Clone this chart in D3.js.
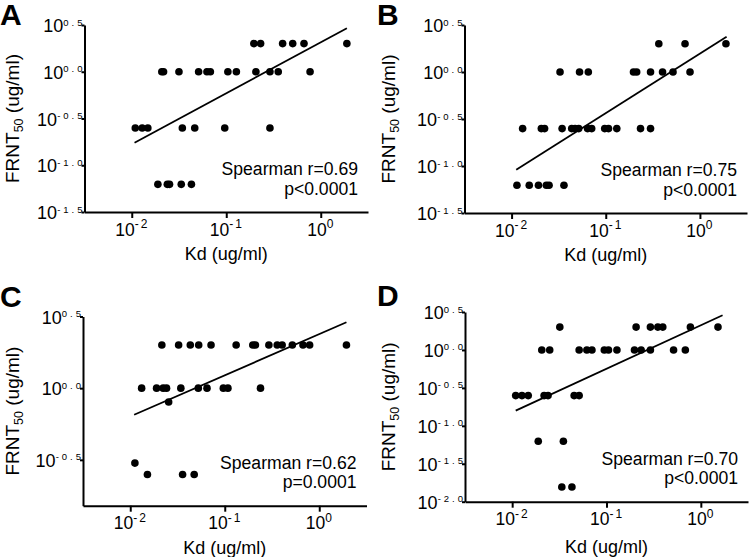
<!DOCTYPE html>
<html>
<head>
<meta charset="utf-8">
<script src="https://cdn.jsdelivr.net/npm/d3@7"></script>
<style>
  body { margin: 0; background: #fff; }
  svg { display: block; font-family: "Liberation Sans", Arial, sans-serif; }
</style>
</head>
<body>
<svg id="chart" width="750" height="557"></svg>
<script>
// ---- data (Kd vs FRNT50, ug/ml) ----
const kdA = [0.196, 0.231, 0.395, 0.505, 0.665, 1.89,
  0.0208, 0.0217, 0.0316, 0.051, 0.0625, 0.0679, 0.104, 0.128, 0.206, 0.29, 0.355, 0.771,
  0.0109, 0.0129, 0.0148, 0.0343, 0.0464, 0.0964, 0.29,
  0.0189, 0.0238, 0.0251, 0.0334, 0.0428];
const frntA = [2, 2, 2, 2, 2, 2,
  1, 1, 1, 1, 1, 1, 1, 1, 1, 1, 1, 1,
  0.25, 0.25, 0.25, 0.25, 0.25, 0.25, 0.25,
  0.0625, 0.0625, 0.0625, 0.0625, 0.0625];

const kdB = [0.366, 0.695, 1.89,
  0.0327, 0.0527, 0.0653, 0.197, 0.213, 0.299, 0.401, 0.518, 0.785,
  0.0131, 0.0207, 0.0224, 0.0344, 0.0435, 0.0472, 0.0516, 0.0641, 0.0709, 0.0975, 0.107, 0.131, 0.234, 0.299,
  0.0114, 0.0154, 0.0193, 0.0234, 0.025, 0.036];
const frntB = [2, 2, 2,
  1, 1, 1, 1, 1, 1, 1, 1, 1,
  0.25, 0.25, 0.25, 0.25, 0.25, 0.25, 0.25, 0.25, 0.25, 0.25, 0.25, 0.25, 0.25, 0.25,
  0.0625, 0.0625, 0.0625, 0.0625, 0.0625, 0.0625];

const kdC = [0.0216, 0.0325, 0.0432, 0.053, 0.0716, 0.132, 0.198, 0.211, 0.293, 0.359, 0.405, 0.519, 0.673, 0.791, 1.94,
  0.0132, 0.019, 0.0223, 0.0242, 0.0343, 0.0525, 0.0649, 0.0966, 0.108, 0.239,
  0.0255,
  0.0112,
  0.0152, 0.0358, 0.0475];
const frntC = [2, 2, 2, 2, 2, 2, 2, 2, 2, 2, 2, 2, 2, 2, 2,
  1, 1, 1, 1, 1, 1, 1, 1, 1, 1,
  0.8,
  0.3,
  0.25, 0.25, 0.25];

const kdD = [0.032, 0.206, 0.292, 0.35, 0.395, 0.775, 1.52,
  0.0206, 0.025, 0.0513, 0.0619, 0.0701, 0.0948, 0.105, 0.129, 0.198, 0.233, 0.292, 0.514, 0.685,
  0.0109, 0.0127, 0.0148, 0.0218, 0.024, 0.0454, 0.0513,
  0.0189, 0.0349,
  0.0336, 0.043];
const frntD = [2, 2, 2, 2, 2, 2, 2,
  1, 1, 1, 1, 1, 1, 1, 1, 1, 1, 1, 1, 1,
  0.25, 0.25, 0.25, 0.25, 0.25, 0.25, 0.25,
  0.0625, 0.0625,
  0.015625, 0.015625];

// regression lines: log10(y) = slope * log10(x) + intercept
const fitSlope = [0.545, 0.633, 0.287, 0.573];
const fitIntercept = [0.315, 0.195, 0.377, 0.325];
const fitFrom = [0.0107, 0.0112, 0.011, 0.0109];
const fitTo = [1.89, 1.92, 1.94, 1.7];

const panelLetters = ["A", "B", "C", "D"];
const spearmanR = ["0.69", "0.75", "0.62", "0.70"];
const pValues = ["p<0.0001", "p<0.0001", "p=0.0001", "p<0.0001"];

const xTicks = [0.01, 0.1, 1];
const yExpA = [-1.5, -1, -0.5, 0, 0.5];
const yExpB = [-1.5, -1, -0.5, 0, 0.5];
const yExpC = [-0.5, 0, 0.5];
const yExpD = [-2, -1.5, -1, -0.5, 0, 0.5];
const yLow = [-1.5, -1.5, -0.82, -2];

// ---- layout ----
const svg = d3.select("#chart");
const xDomain = [Math.pow(10, -2.5), Math.pow(10, 0.5)];

const panels = [
  { kd: kdA, frnt: frntA, yExp: yExpA, box: [84.5, 368, 25, 212], letter: [0, 25], ytx: 18.5, xty: 260 },
  { kd: kdB, frnt: frntB, yExp: yExpB, box: [464.5, 747, 25, 213], letter: [377, 25], ytx: 395, xty: 260.5 },
  { kd: kdC, frnt: frntC, yExp: yExpC, box: [83, 366.5, 316.5, 505.7], letter: [0, 307], ytx: 18.5, xty: 554 },
  { kd: kdD, frnt: frntD, yExp: yExpD, box: [465, 748, 312, 501.7], letter: [377, 306], ytx: 395, xty: 553 }
];

panels.forEach((p, i) => {
  const [left, right, top, bottom] = p.box;
  const x = d3.scaleLog().domain(xDomain).range([left, right]);
  const y = d3.scaleLog().domain([Math.pow(10, yLow[i]), Math.pow(10, 0.5)]).range([bottom, top]);
  const g = svg.append("g");

  // x axis
  const xAxis = g.append("g")
    .attr("transform", `translate(0,${bottom})`)
    .call(d3.axisBottom(x).tickValues(xTicks).tickSize(6).tickSizeOuter(0).tickFormat(""))
    .attr("font-family", null).attr("font-size", null);
  xAxis.selectAll("path, line").attr("stroke", "#000").attr("stroke-width", 2);
  xAxis.selectAll(".tick").append("text")
    .attr("y", 23.5)
    .attr("fill", "#000")
    .attr("text-anchor", "middle")
    .attr("font-size", 17.5)
    .each(function (d) {
      const t = d3.select(this);
      t.append("tspan").text("10");
      t.append("tspan").attr("font-size", 12).attr("dy", -7.5).attr("letter-spacing", 2)
        .text(Math.round(Math.log10(d)));
    });

  // y axis
  const yAxis = g.append("g")
    .attr("transform", `translate(${left},0)`)
    .call(d3.axisLeft(y).tickValues(p.yExp.map(e => Math.pow(10, e))).tickSize(3).tickSizeOuter(0).tickFormat(""))
    .attr("font-family", null).attr("font-size", null);
  yAxis.selectAll("path, line").attr("stroke", "#000").attr("stroke-width", 2);
  yAxis.selectAll(".tick").append("text")
    .attr("x", 1)
    .attr("y", 6.5)
    .attr("fill", "#000")
    .attr("text-anchor", "end")
    .attr("font-size", 18)
    .each(function (d) {
      const t = d3.select(this);
      t.append("tspan").text("10");
      t.append("tspan").attr("font-size", 9.5).attr("dy", -6.5).attr("letter-spacing", 3)
        .text(Math.log10(d).toFixed(1));
    });

  // regression line
  g.append("path")
    .datum([fitFrom[i], fitTo[i]])
    .attr("fill", "none")
    .attr("stroke", "#000")
    .attr("stroke-width", 1.8)
    .attr("d", d3.line()
      .x(d => x(d))
      .y(d => y(Math.pow(10, fitSlope[i] * Math.log10(d) + fitIntercept[i]))));

  // points
  g.append("g")
    .selectAll("circle")
    .data(p.kd.map((k, j) => [k, p.frnt[j]]))
    .join("circle")
    .attr("cx", d => x(d[0]))
    .attr("cy", d => y(d[1]))
    .attr("r", 3.8)
    .attr("fill", "#000");

  // stats text
  g.append("text")
    .attr("x", right - 10).attr("y", bottom - 37)
    .attr("text-anchor", "end").attr("font-size", 17.6)
    .text("Spearman r=" + spearmanR[i]);
  g.append("text")
    .attr("x", right - 10).attr("y", bottom - 17.5)
    .attr("text-anchor", "end").attr("font-size", 17.6)
    .text(pValues[i]);

  // axis titles
  g.append("text")
    .attr("x", (left + right) / 2).attr("y", p.xty)
    .attr("text-anchor", "middle").attr("font-size", 18)
    .text("Kd (ug/ml)");

  const yt = g.append("text")
    .attr("transform", `translate(${p.ytx},${(top + bottom) / 2}) rotate(-90)`)
    .attr("text-anchor", "middle").attr("font-size", 19);
  yt.append("tspan").text("FRNT");
  yt.append("tspan").attr("font-size", 12.5).attr("dy", 4).text("50");
  yt.append("tspan").attr("dy", -4).text(" (ug/ml)");

  // panel letter
  g.append("text")
    .attr("x", p.letter[0]).attr("y", p.letter[1])
    .attr("font-size", 30).attr("font-weight", "bold")
    .text(panelLetters[i]);
});
</script>
</body>
</html>
